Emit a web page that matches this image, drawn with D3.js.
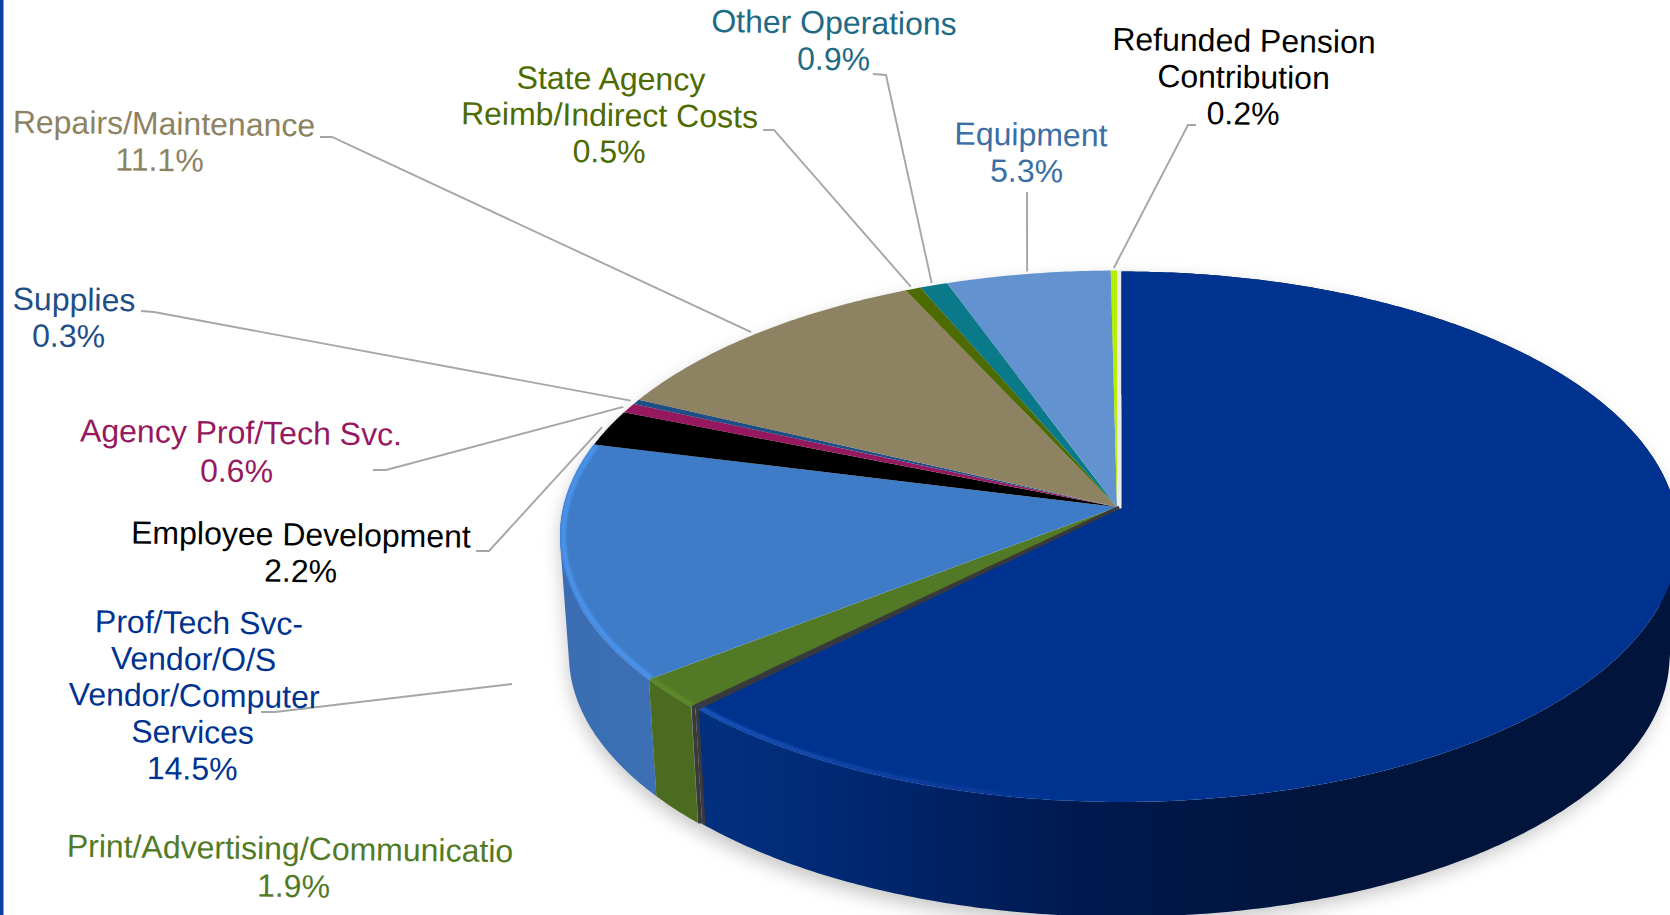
<!DOCTYPE html>
<html>
<head>
<meta charset="utf-8">
<script src="https://cdn.jsdelivr.net/npm/d3@7"></script>
<style>
  html, body { margin: 0; padding: 0; background: #fff; overflow: hidden; }
  text { font-family: "Liberation Sans", Arial, sans-serif; }
</style>
</head>
<body>
<div id="wrapper"></div>
<script>
// the slices, clockwise from 12 o'clock
const categories = [
  "", // biggest slice has no label in the picture
  "Print/Advertising/Communicatio",
  "Prof/Tech Svc-\nVendor/O/S\nVendor/Computer\nServices",
  "Employee Development",
  "Agency Prof/Tech Svc.",
  "Supplies",
  "Repairs/Maintenance",
  "State Agency\nReimb/Indirect Costs",
  "Other Operations",
  "Equipment",
  "Refunded Pension\nContribution",
]
const shares = [62.7, 1.9, 14.5, 2.2, 0.6, 0.3, 11.1, 0.5, 0.9, 5.3, 0.2]

const topColors = ["#00338f", "#527a26", "#3f7cc8", "#000000", "#96195f", "#1f4e87", "#8d8262", "#4d6b00", "#0a7a8a", "#6293d0", "#b5f000"]
const textColors = ["#00338f", "#527a26", "#00338f", "#000000", "#96195f", "#1f4e87", "#8d8262", "#4d6b00", "#1f6a85", "#3b6ea5", "#000000"]

// label anchors: centre x, centre y of first line
const labelSpots = [null, [290, 848], [194, 622], [301, 534], [241, 432], [71, 299], [164, 123], [609, 78], [834, 22], [1031, 134], [1244, 40]]
// small per line corrections, the source text isn't quite centred
const lineNudges = [
  [],
  [[0, 0], [4, 1]],
  [[5, 0], [0, 0], [1, 0], [0, 0], [0, 0]],
  [[0, 0], [0, 0]],
  [[0, 0], [-4, 2]],
  [[3, 0], [-2, 0]],
  [[0, 0], [-4, 0]],
  [[2, 0], [1, 0], [1, 0]],
  [[0, 0], [0, 0]],
  [[0, 0], [-4, 0]],
  [[0, 0], [0, 0], [0, 0]],
]
// leader lines: label end, elbow, and (only if it doesn't reach the pie) a loose end
const leaderSpots = [
  null,
  null,
  { from: [261, 712], elbow: [275, 712], to: [512, 684] },
  { from: [476, 551], elbow: [489, 551] },
  { from: [373, 470], elbow: [386, 470] },
  { from: [141, 311], elbow: [154, 312] },
  { from: [320, 137], elbow: [332, 137] },
  { from: [763, 130], elbow: [774, 130] },
  { from: [873, 74], elbow: [886, 75] },
  { from: [1027, 192], elbow: [1027, 193] },
  { from: [1196, 125], elbow: [1188, 125] },
]

const dims = {
  width: 1670,
  height: 915,
  apexX: 1117,
  apexY: 507,
  radiusX: 553.7,   // horizontal scale of the disc
  radiusY: 262.1,   // vertical scale of the disc
  tilt: -0.1084,    // perspective term, the near edge looks bigger
  bottomScale: 0.984,
  depth: 119.5,
  fontSize: 32,
  lineHeight: 36.5,
}

// unit disc -> screen, u to the right, v towards the viewer
const project = (angle, r = 1, floor = false) => {
  const u = Math.sin(angle) * r
  const v = -Math.cos(angle) * r
  const w = 1 + dims.tilt * v
  const k = floor ? dims.bottomScale : 1
  return [
    dims.apexX + k * dims.radiusX * u / w,
    dims.apexY + k * dims.radiusY * v / w + (floor ? dims.depth : 0),
  ]
}

const arcAngles = (start, end) => {
  const steps = Math.max(2, Math.ceil((end - start) / 0.01))
  return d3.range(steps + 1).map(i => start + (end - start) * i / steps)
}
const line = d3.line()

const wedgePath = (start, end) =>
  line([[dims.apexX, dims.apexY], ...arcAngles(start, end).map(a => project(a))]) + "Z"
const rimPath = (start, end) => line(arcAngles(start, end).map(a => project(a, 0.994)))

// wall made of many small quads so the outline past the ellipse tips gets filled too
const wallPath = (start, end) => {
  const angles = arcAngles(start, end)
  return d3.pairs(angles).map(([a, b]) => {
    const quad = [project(a), project(b), project(b, 1, true), project(a, 1, true)]
    if (d3.polygonArea(quad) < 0) quad.reverse()
    return line(quad) + "Z"
  }).join("")
}

const pie = d3.pie().sort(null).value(d => d)
const slices = pie(shares)

const wrapper = d3.select("#wrapper")
  .append("svg")
    .attr("width", dims.width)
    .attr("height", dims.height)
    .style("display", "block")

const defs = wrapper.append("defs")
const blur = (id, s) => defs.append("filter")
    .attr("id", id)
    .attr("x", "-10%").attr("y", "-10%").attr("width", "120%").attr("height", "120%")
  .append("feGaussianBlur").attr("stdDeviation", s)
blur("shadowBlur", 9)
blur("rimBlur", 1.2)

const gradient = (id, x1, x2, stops) => {
  const g = defs.append("linearGradient")
      .attr("id", id)
      .attr("gradientUnits", "userSpaceOnUse")
      .attr("x1", x1).attr("x2", x2).attr("y1", 0).attr("y2", 0)
  stops.forEach(([o, c, a]) => g.append("stop")
      .attr("offset", o).attr("stop-color", c).attr("stop-opacity", a === undefined ? 1 : a))
}
gradient("blueWall", 700, 1300, [[0, "#02307f"], [0.25, "#002872"], [0.55, "#001b54"], [1, "#00143c"]])
gradient("blueRim", 700, 1150, [[0, "#1a56bd"], [0.6, "#0f3f9f", 0.6], [1, "#00338f", 0]])
gradient("profWall", 565, 660, [[0, "#3a6db2"], [1, "#3c6fb3"]])

// left edge bar
wrapper.append("rect")
    .attr("width", 3.5)
    .attr("height", dims.height)
    .attr("fill", "#0b3fa0")

// soft shadow under the disc
wrapper.append("path")
    .attr("d", wallPath(0, 2 * Math.PI))
    .attr("transform", "translate(0, 8)")
    .attr("fill", "#9a9a9a")
    .attr("opacity", 0.55)
    .attr("filter", "url(#shadowBlur)")

const bounds = wrapper.append("g")

const big = slices[0]
const print = slices[1]
const prof = slices[2]
const shift = [4.5, 1] // biggest slice is pulled out a little

// outer walls
bounds.append("path").attr("d", wallPath(prof.startAngle, prof.endAngle)).attr("fill", "url(#profWall)")
bounds.append("path").attr("d", wallPath(print.startAngle, print.endAngle)).attr("fill", "#4b6b20")

// flat tops, the big slice last
slices.slice(1).forEach((s, i) => {
  bounds.append("path")
      .attr("d", wedgePath(s.startAngle, s.endAngle))
      .attr("fill", topColors[i + 1])
})
bounds.append("path")
    .attr("d", rimPath(prof.startAngle, slices[3].startAngle - 0.005))
    .attr("fill", "none")
    .attr("stroke", "#4c92ea")
    .attr("stroke-width", 5)
    .attr("filter", "url(#rimBlur)")
bounds.append("path")
    .attr("d", rimPath(print.startAngle, print.endAngle))
    .attr("fill", "none")
    .attr("stroke", "#5d8a2c")
    .attr("stroke-width", 4)
    .attr("filter", "url(#rimBlur)")

// pale gap where the big slice starts
bounds.append("path")
    .attr("d", line([[dims.apexX + 2, dims.apexY + 1], [project(0)[0] + 2, project(0)[1]]]))
    .attr("stroke", "#ececec")
    .attr("stroke-width", 4)

// dark cut face at the end of the big slice, tapers towards the apex
const endRim = project(big.endAngle)
const endFloor = project(big.endAngle, 1, true)
bounds.append("path")
    .attr("d", line([[dims.apexX + shift[0] / 2, dims.apexY + shift[1] / 2],
      [endRim[0] + shift[0] / 2, endRim[1] + shift[1] / 2],
      [endFloor[0] + shift[0] / 2, endFloor[1] + shift[1] / 2]]))
    .attr("fill", "none")
    .attr("stroke", "#3a3a3a")
    .attr("stroke-width", 4)
    .attr("stroke-linejoin", "round")

const bigGroup = bounds.append("g").attr("transform", `translate(${shift})`)
bigGroup.append("path").attr("d", wallPath(big.startAngle, big.endAngle)).attr("fill", "url(#blueWall)")
bigGroup.append("path").attr("d", wedgePath(big.startAngle, big.endAngle)).attr("fill", topColors[0])
bigGroup.append("path")
    .attr("d", rimPath(big.startAngle, big.endAngle))
    .attr("fill", "none")
    .attr("stroke", "url(#blueRim)")
    .attr("stroke-width", 4)
    .attr("filter", "url(#rimBlur)")
const cut = 0.008
bigGroup.append("path").attr("d", wedgePath(big.endAngle - cut, big.endAngle)).attr("fill", "#3a3a3a")
bigGroup.append("path").attr("d", wallPath(big.endAngle - cut, big.endAngle)).attr("fill", "#3a3a3a")

// leader lines
leaderSpots.forEach((leader, i) => {
  if (!leader) return
  const mid = (slices[i].startAngle + slices[i].endAngle) / 2
  const end = leader.to || project(mid, 1.012)
  bounds.append("path")
      .attr("d", line([leader.from, leader.elbow, end]))
      .attr("fill", "none")
      .attr("stroke", "#a6a6a6")
      .attr("stroke-width", 1.9)
})

// labels
categories.forEach((name, i) => {
  if (!labelSpots[i]) return
  const [x, y] = labelSpots[i]
  const lines = [...name.split("\n"), d3.format(".1f")(shares[i]) + "%"]
  const label = bounds.append("text")
      .attr("transform", `rotate(0.7, ${x}, ${y})`)
      .attr("text-anchor", "middle")
      .attr("font-size", dims.fontSize)
      .attr("fill", textColors[i])
  lines.forEach((t, j) => label.append("tspan")
      .attr("x", x + lineNudges[i][j][0])
      .attr("y", y + lineNudges[i][j][1] + j * dims.lineHeight + dims.fontSize * 0.36)
      .text(t))
})
</script>
</body>
</html>
